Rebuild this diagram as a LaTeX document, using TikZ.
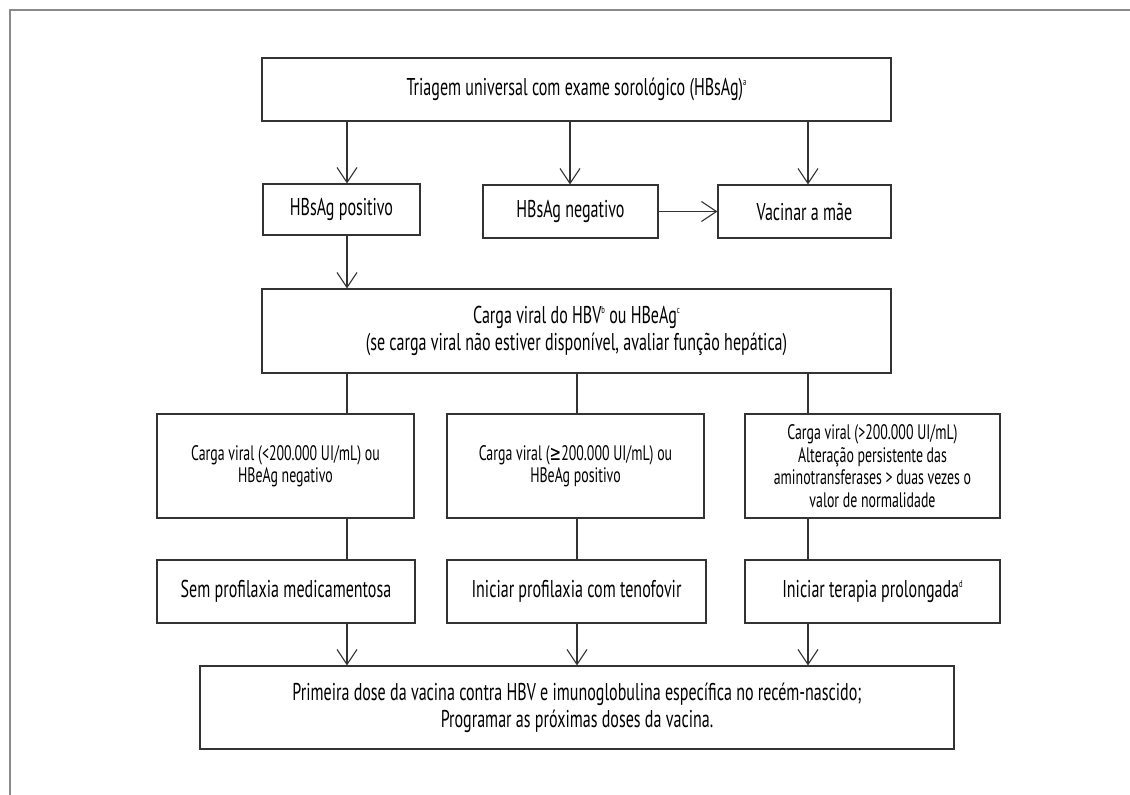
\documentclass[tikz,border=0pt]{standalone}
\usepackage{fontspec}
\setmainfont{PT Sans}[FakeStretch=0.66]
\newfontfamily\symf{DejaVu Sans}[FakeStretch=0.66]
\usetikzlibrary{arrows.meta}
\definecolor{ln}{HTML}{333333}
\definecolor{fr}{HTML}{8A8A8A}
\newcommand{\supl}[1]{\raisebox{0.85ex}{\fontsize{10}{10}\selectfont #1}}
\tikzset{
  box/.style={draw=ln, line width=1.1pt, inner sep=0pt, align=center, text=black, font=\fontsize{24.3}{27}\selectfont},
  smallbox/.style={box, font=\fontsize{21}{22.5}\selectfont},
  conn/.style={draw=ln, line width=1.1pt},
  arr/.style={conn, -{Straight Barb[length=15pt,width=20pt,line width=1.1pt]}}
}
\begin{document}
\begin{tikzpicture}[x=1pt,y=-1pt]
\useasboundingbox (0,0) rectangle (1130,795);
\draw[fr, line width=1.6pt] (10,795) -- (10,10) -- (1130,10);

\coordinate (cA) at (347,0);
\coordinate (cB) at (570,0);
\coordinate (cC) at (808,0);
\coordinate (cM) at (577,0);

\node[box, minimum width=629pt, minimum height=63pt] (top) at (576.5,89.5) {Triagem universal com exame sorológico (HBsAg)\supl{a}};

\node[box, minimum width=157pt, minimum height=51pt] (pos) at (341.5,209.5) {HBsAg positivo};
\node[box, minimum width=175pt, minimum height=53pt] (neg) at (570.5,211.5) {HBsAg negativo};
\node[box, minimum width=173pt, minimum height=53pt] (vac) at (804.5,211.5) {Vacinar a mãe};

\node[box, minimum width=629pt, minimum height=84pt] (carga) at (576.5,331) {Carga viral do HBV\supl{b} ou HBeAg\supl{c}\\(se carga viral não estiver disponível, avaliar função hepática)};

\node[smallbox, minimum width=257pt, minimum height=104pt] (m1) at (285.5,466) {Carga viral (<200.000 UI/mL) ou\\HBeAg negativo};
\node[smallbox, minimum width=257pt, minimum height=104pt] (m2) at (575.5,466) {Carga viral ({\symf ≥}200.000 UI/mL) ou\\HBeAg positivo};
\node[smallbox, minimum width=255pt, minimum height=104pt] (m3) at (872.5,466) {Carga viral (>200.000 UI/mL)\\Alteração persistente das\\aminotransferases > duas vezes o\\valor de normalidade};

\node[box, minimum width=258pt, minimum height=63pt] (l1) at (286,591.5) {Sem profilaxia medicamentosa};
\node[box, minimum width=259pt, minimum height=63pt] (l2) at (576.5,591.5) {Iniciar profilaxia com tenofovir};
\node[box, minimum width=255pt, minimum height=63pt] (l3) at (872.5,591.5) {Iniciar terapia prolongada\supl{d}};

\node[box, minimum width=754pt, minimum height=83pt] (bot) at (577,707.5) {Primeira dose da vacina contra HBV e imunoglobulina específica no recém-nascido;\\Programar as próximas doses da vacina.};

\draw[arr] (top.south -| cA) -- (pos.north -| cA);
\draw[arr] (top.south -| cB) -- (neg.north -| cB);
\draw[arr] (top.south -| cC) -- (vac.north -| cC);
\draw[arr] (neg.east) -- (vac.west);
\draw[arr] (pos.south -| cA) -- (carga.north -| cA);

\draw[conn] (carga.south -| cA) -- (m1.north -| cA);
\draw[conn] (carga.south -| cM) -- (m2.north -| cM);
\draw[conn] (carga.south -| cC) -- (m3.north -| cC);

\draw[conn] (m1.south -| cA) -- (l1.north -| cA);
\draw[conn] (m2.south -| cM) -- (l2.north -| cM);
\draw[conn] (m3.south -| cC) -- (l3.north -| cC);

\draw[arr] (l1.south -| cA) -- (bot.north -| cA);
\draw[arr] (l2.south -| cM) -- (bot.north -| cM);
\draw[arr] (l3.south -| cC) -- (bot.north -| cC);
\end{tikzpicture}
\end{document}
